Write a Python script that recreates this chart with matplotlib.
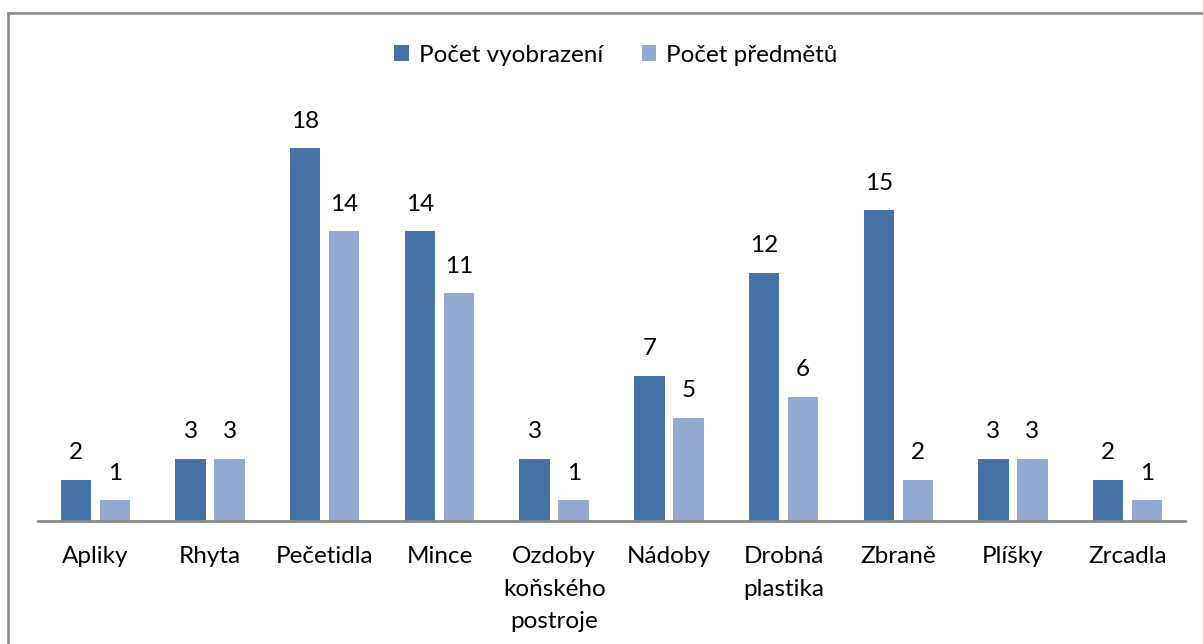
import matplotlib
matplotlib.use("Agg")
import matplotlib.pyplot as plt
from matplotlib.lines import Line2D
import numpy as np

categories = ["Apliky", "Rhyta", "Pečetidla", "Mince", "Ozdoby\nkoňského\npostroje",
              "Nádoby", "Drobná\nplastika", "Zbraně", "Plíšky", "Zrcadla"]
vyobrazeni = [2, 3, 18, 14, 3, 7, 12, 15, 3, 2]
predmetu = [1, 3, 14, 11, 1, 5, 6, 2, 3, 1]

dark = "#4572A7"
light = "#94A9D2"

plt.rcParams['font.family'] = ['Lato', 'DejaVu Sans']

fig = plt.figure(figsize=(12.03, 6.44), dpi=100)
ax = fig.add_axes([38/1203, 123/644, 1147/1203, 414/644])

x = np.arange(len(categories))
w = 0.265
off = 0.17
b1 = ax.bar(x - off, vyobrazeni, w, color=dark, label="Počet vyobrazení")
b2 = ax.bar(x + off, predmetu, w, color=light, label="Počet předmětů")

for bars, vals in [(b1, vyobrazeni), (b2, predmetu)]:
    for rect, v in zip(bars, vals):
        ax.annotate(str(v), (rect.get_x() + rect.get_width()/2, v),
                    xytext=(0, 12), textcoords="offset points",
                    ha="center", va="bottom", fontsize=17.5)

ax.set_xlim(-0.5, 9.5)
ax.set_ylim(0, 20)
ax.set_yticks([])
ax.set_xticks(x)
ax.set_xticklabels(categories, fontsize=17.5, linespacing=1.68, va="top")
ax.tick_params(axis="x", length=0, pad=18)
for s in ["top", "right", "left"]:
    ax.spines[s].set_visible(False)
ax.spines["bottom"].set_color("#888888")
ax.spines["bottom"].set_linewidth(2)

ax.legend(loc="center", bbox_to_anchor=(616/1203, 1 - 55/644), bbox_transform=fig.transFigure,
          ncol=2, frameon=False, fontsize=17.5, handlelength=0.6, handleheight=0.6,
          handletextpad=0.4, columnspacing=1.6)

# chart border
fig.add_artist(Line2D([8/1203, 8/1203], [0, 1 - 13/644], transform=fig.transFigure,
                      color="#868686", linewidth=1.8))
fig.add_artist(Line2D([8/1203, 1], [1 - 13/644, 1 - 13/644], transform=fig.transFigure,
                      color="#868686", linewidth=1.8))

fig.savefig("out.png", dpi=100)
